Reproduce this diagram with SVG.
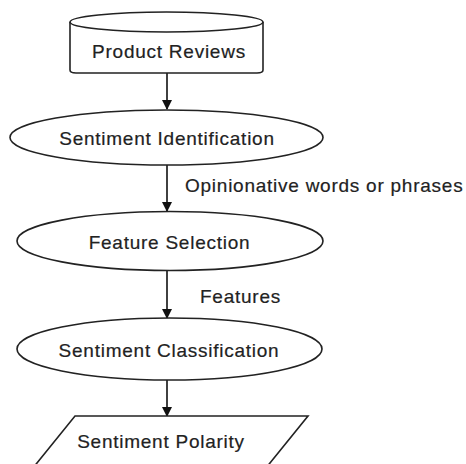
<svg xmlns="http://www.w3.org/2000/svg" width="466" height="464" viewBox="0 0 466 464">
  <defs>
    <marker id="arrow" markerWidth="10" markerHeight="10" refX="9" refY="5" orient="auto" markerUnits="userSpaceOnUse">
      <path d="M0,0 L10,5 L0,10 Z" fill="#111"/>
    </marker>
    <style>
      .shape { fill: #fff; stroke: #222; stroke-width: 1.6; }
      .edge { stroke: #111; stroke-width: 1.6; fill: none; marker-end: url(#arrow); }
      .label, .edge-label { font-family: "Liberation Sans", Arial, sans-serif; font-size: 19px; letter-spacing: 0.75px; fill: #222; stroke: #222; stroke-width: 0.2; }
      .label { text-anchor: middle; }
    </style>
  </defs>
  <rect width="466" height="464" fill="#fff"/>

  <g id="connectors">
    <line class="edge" x1="167" y1="73" x2="167" y2="109"/>
    <line class="edge" x1="167" y1="165" x2="167" y2="211"/>
    <line class="edge" x1="167" y1="271" x2="167" y2="318"/>
    <line class="edge" x1="167" y1="380" x2="167" y2="416"/>
    <text class="edge-label" x="185" y="192">Opinionative words or phrases</text>
    <text class="edge-label" x="200" y="303">Features</text>
  </g>

  <g id="product-reviews">
    <path class="shape" d="M70,22 L70,70 Q70,73 76,73 L257,73 Q263,73 263,70 L263,22"/>
    <ellipse class="shape" cx="166.5" cy="22" rx="96.5" ry="10"/>
    <text class="label" x="169" y="58">Product Reviews</text>
  </g>

  <g id="sentiment-identification">
    <ellipse class="shape" cx="166.5" cy="137.5" rx="156.5" ry="27.5"/>
    <text class="label" x="167" y="145">Sentiment Identification</text>
  </g>

  <g id="feature-selection">
    <ellipse class="shape" cx="170" cy="241" rx="153" ry="29.5"/>
    <text class="label" x="169.5" y="249">Feature Selection</text>
  </g>

  <g id="sentiment-classification">
    <ellipse class="shape" cx="169.5" cy="349" rx="152.5" ry="31"/>
    <text class="label" x="169" y="357">Sentiment Classification</text>
  </g>

  <g id="sentiment-polarity">
    <polygon class="shape" points="75,416 308,416 253,484 20,484"/>
    <text class="label" x="161" y="448">Sentiment Polarity</text>
  </g>
</svg>
